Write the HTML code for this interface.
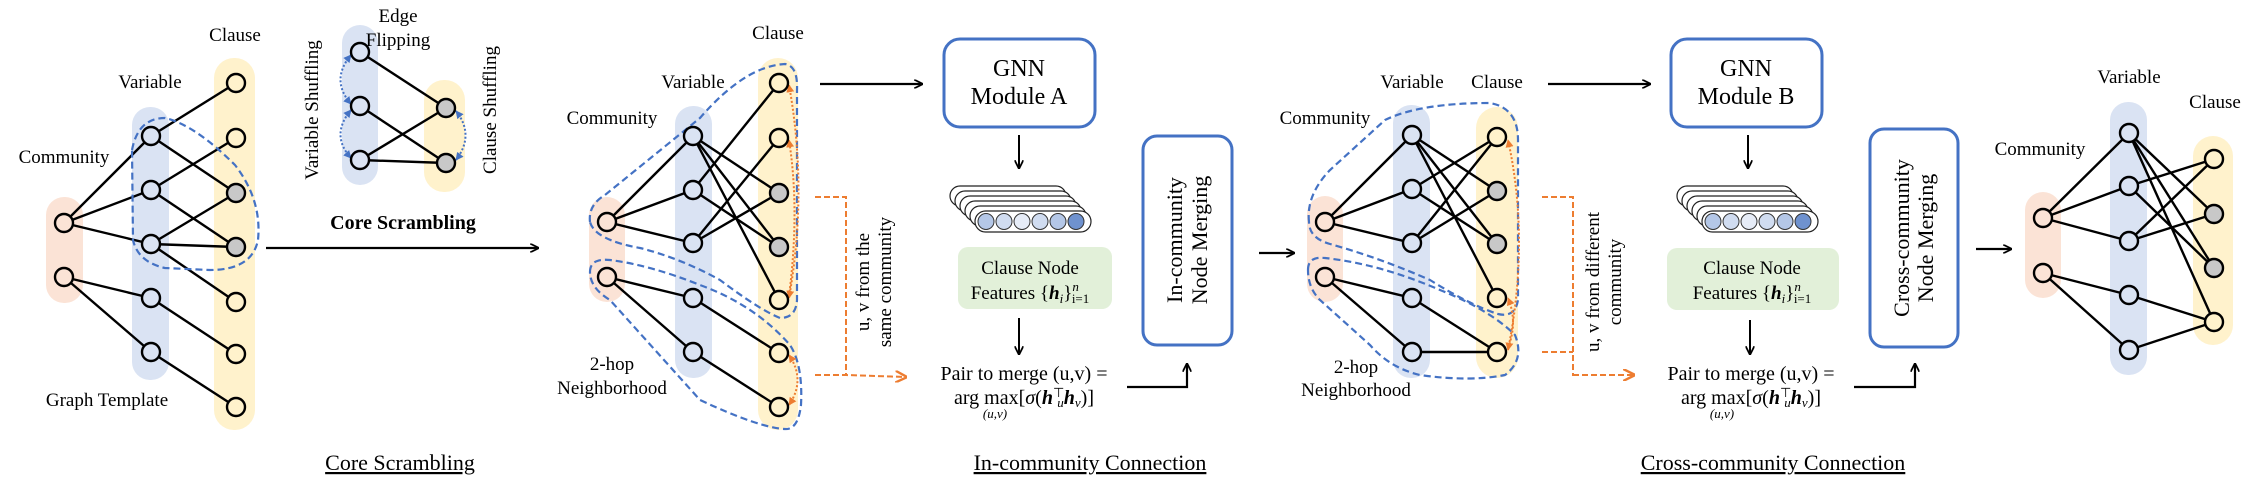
<!DOCTYPE html>
<html><head><meta charset="utf-8"><style>
html,body{margin:0;padding:0;background:#fff;}
svg{display:block;font-family:"Liberation Serif",serif;}
</style></head><body>
<svg width="2248" height="481" viewBox="0 0 2248 481" xmlns="http://www.w3.org/2000/svg">
<defs>
<marker id="ah" viewBox="0 0 10 10" refX="9" refY="5" markerWidth="9" markerHeight="9" orient="auto" markerUnits="userSpaceOnUse"><path d="M0,0 L10,5 L0,10" fill="none" stroke="#000" stroke-width="2"/></marker>
<marker id="ao" viewBox="0 0 10 10" refX="9" refY="5" markerWidth="12" markerHeight="12" orient="auto" markerUnits="userSpaceOnUse"><path d="M0,0 L10,5 L0,10" fill="none" stroke="#ED7D31" stroke-width="2"/></marker>
<marker id="aos" viewBox="0 0 10 10" refX="9" refY="5" markerWidth="8" markerHeight="8" orient="auto-start-reverse" markerUnits="userSpaceOnUse"><path d="M0,0 L10,5 L0,10 Z" fill="#ED7D31"/></marker>
<marker id="abs" viewBox="0 0 10 10" refX="9" refY="5" markerWidth="8" markerHeight="8" orient="auto-start-reverse" markerUnits="userSpaceOnUse"><path d="M0,0 L10,5 L0,10 Z" fill="#4472C4"/></marker>
</defs>
<style>
.e{stroke:#000;stroke-width:2.4;}
.nc{fill:#FBE3D6;stroke:#000;stroke-width:2.4;}
.nv{fill:#DAE3F3;stroke:#000;stroke-width:2.4;}
.nl{fill:#FFF2CC;stroke:#000;stroke-width:2.4;}
.ng{fill:#C8C8C8;stroke:#000;stroke-width:2.4;}
.bd{fill:none;stroke:#4472C4;stroke-width:2.2;stroke-dasharray:7,4;}
.od{fill:none;stroke:#ED7D31;stroke-width:2;stroke-dasharray:2,2;}
.ob{fill:none;stroke:#ED7D31;stroke-width:2;stroke-dasharray:6,3;}
.t{font-size:19px;fill:#000;}
.bx{fill:#fff;stroke:#4472C4;stroke-width:3;}
</style>

<!-- ========== Graph 1 ========== -->
<rect x="46" y="197" width="37" height="106" rx="18" fill="#FBE3D6"/>
<rect x="132" y="107" width="37" height="273" rx="18" fill="#DAE3F3"/>
<rect x="214" y="58" width="41" height="372" rx="20" fill="#FFF2CC"/>
<g class="e">
<line x1="64" y1="223" x2="151" y2="136"/><line x1="64" y1="223" x2="151" y2="190"/><line x1="64" y1="223" x2="151" y2="244"/>
<line x1="64" y1="277" x2="151" y2="298"/><line x1="64" y1="277" x2="151" y2="352"/>
<line x1="151" y1="136" x2="236" y2="83"/><line x1="151" y1="136" x2="236" y2="193"/>
<line x1="151" y1="190" x2="236" y2="138"/><line x1="151" y1="190" x2="236" y2="247"/>
<line x1="151" y1="244" x2="236" y2="193"/><line x1="151" y1="244" x2="236" y2="247"/><line x1="151" y1="244" x2="236" y2="302"/>
<line x1="151" y1="298" x2="236" y2="354"/><line x1="151" y1="352" x2="236" y2="407"/>
</g>
<path class="bd" d="M132,150 Q138,118 165,118 Q195,125 235,165 Q262,200 258,240 Q252,270 210,270 L165,268 Q138,262 133,240 Z"/>
<circle class="nc" cx="64" cy="223" r="9"/><circle class="nc" cx="64" cy="277" r="9"/>
<circle class="nv" cx="151" cy="136" r="9"/><circle class="nv" cx="151" cy="190" r="9"/><circle class="nv" cx="151" cy="244" r="9"/><circle class="nv" cx="151" cy="298" r="9"/><circle class="nv" cx="151" cy="352" r="9"/>
<circle class="nl" cx="236" cy="83" r="9"/><circle class="nl" cx="236" cy="138" r="9"/><circle class="ng" cx="236" cy="193" r="9"/><circle class="ng" cx="236" cy="247" r="9"/><circle class="nl" cx="236" cy="302" r="9"/><circle class="nl" cx="236" cy="354" r="9"/><circle class="nl" cx="236" cy="407" r="9"/>
<text class="t" x="235" y="41" text-anchor="middle">Clause</text>
<text class="t" x="150" y="88" text-anchor="middle">Variable</text>
<text class="t" x="64" y="163" text-anchor="middle">Community</text>
<text class="t" x="107" y="406" text-anchor="middle">Graph Template</text>

<!-- Core scrambling inset -->
<rect x="342" y="25" width="36" height="160" rx="18" fill="#DAE3F3"/>
<rect x="424" y="80" width="41" height="112" rx="20" fill="#FFF2CC"/>
<g class="e">
<line x1="360" y1="52" x2="446" y2="108"/><line x1="360" y1="106" x2="446" y2="163"/>
<line x1="360" y1="160" x2="446" y2="108"/><line x1="360" y1="160" x2="446" y2="163"/>
</g>
<g fill="none" stroke="#4472C4" stroke-width="2" stroke-dasharray="2,2">
<path d="M351,55 Q330,80 351,104" marker-start="url(#abs)" marker-end="url(#abs)"/>
<path d="M351,110 Q330,135 351,158" marker-start="url(#abs)" marker-end="url(#abs)"/>
<path d="M456,111 Q475,135 456,160" marker-start="url(#abs)" marker-end="url(#abs)"/>
</g>
<circle class="nv" cx="360" cy="52" r="9"/><circle class="nv" cx="360" cy="106" r="9"/><circle class="nv" cx="360" cy="160" r="9"/>
<circle class="ng" cx="446" cy="108" r="9"/><circle class="ng" cx="446" cy="163" r="9"/>
<text class="t" x="398" y="22" text-anchor="middle">Edge</text>
<text class="t" x="398" y="46" text-anchor="middle">Flipping</text>
<text class="t" transform="translate(318,110) rotate(-90)" text-anchor="middle">Variable Shuffling</text>
<text class="t" transform="translate(496,110) rotate(-90)" text-anchor="middle">Clause Shuffling</text>
<text x="403" y="229" text-anchor="middle" font-size="20" font-weight="bold">Core Scrambling</text>
<line x1="266" y1="248" x2="538" y2="248" stroke="#000" stroke-width="2.2" marker-end="url(#ah)"/>
<text x="400" y="470" text-anchor="middle" font-size="22" text-decoration="underline">Core Scrambling</text>

<!-- ========== Graph 2 ========== -->
<rect x="589" y="197" width="36" height="105" rx="18" fill="#FBE3D6"/>
<rect x="675" y="106" width="37" height="272" rx="18" fill="#DAE3F3"/>
<rect x="758" y="58" width="40" height="372" rx="20" fill="#FFF2CC"/>
<g class="e">
<line x1="607" y1="222" x2="693" y2="136"/><line x1="607" y1="222" x2="693" y2="190"/><line x1="607" y1="222" x2="693" y2="243"/>
<line x1="607" y1="277" x2="693" y2="298"/><line x1="607" y1="277" x2="693" y2="352"/>
<line x1="693" y1="136" x2="779" y2="193"/><line x1="693" y1="136" x2="779" y2="247"/><line x1="693" y1="136" x2="779" y2="300"/>
<line x1="693" y1="190" x2="779" y2="83"/><line x1="693" y1="190" x2="779" y2="247"/>
<line x1="693" y1="243" x2="779" y2="138"/><line x1="693" y1="243" x2="779" y2="193"/>
<line x1="693" y1="298" x2="779" y2="353"/><line x1="693" y1="352" x2="779" y2="407"/>
</g>
<path class="bd" d="M590,222 Q588,205 605,195 L700,118 Q745,66 785,64 Q798,66 797,90 L797,300 Q796,318 780,318 Q760,310 720,280 Q680,258 640,248 Q595,240 590,222 Z"/>
<path class="bd" d="M590,272 Q590,258 610,260 Q650,265 700,285 Q755,305 790,345 Q803,365 801,405 Q798,430 785,429 Q760,428 700,400 L610,300 Q590,288 590,272 Z"/>
<path class="od" d="M789,298 Q808,190 789,85" marker-start="url(#aos)" marker-end="url(#aos)"/>
<path class="od" d="M789,296 Q800,210 789,140" marker-end="url(#aos)"/>
<path class="od" d="M789,355 Q806,380 789,405" marker-start="url(#aos)" marker-end="url(#aos)"/>
<circle class="nc" cx="607" cy="222" r="9"/><circle class="nc" cx="607" cy="277" r="9"/>
<circle class="nv" cx="693" cy="136" r="9"/><circle class="nv" cx="693" cy="190" r="9"/><circle class="nv" cx="693" cy="243" r="9"/><circle class="nv" cx="693" cy="298" r="9"/><circle class="nv" cx="693" cy="352" r="9"/>
<circle class="nl" cx="779" cy="83" r="9"/><circle class="nl" cx="779" cy="138" r="9"/><circle class="ng" cx="779" cy="193" r="9"/><circle class="ng" cx="779" cy="247" r="9"/><circle class="nl" cx="779" cy="300" r="9"/><circle class="nl" cx="779" cy="353" r="9"/><circle class="nl" cx="779" cy="407" r="9"/>
<text class="t" x="778" y="39" text-anchor="middle">Clause</text>
<text class="t" x="693" y="88" text-anchor="middle">Variable</text>
<text class="t" x="612" y="124" text-anchor="middle">Community</text>
<text class="t" x="612" y="370" text-anchor="middle">2-hop</text>
<text class="t" x="612" y="394" text-anchor="middle">Neighborhood</text>
<polyline class="ob" points="815,197 846,197 846,376"/>
<polyline class="ob" points="815,375 846,375 906,377" marker-end="url(#ao)"/>
<text class="t" transform="translate(869,282) rotate(-90)" text-anchor="middle">u, v from the</text>
<text class="t" transform="translate(891,282) rotate(-90)" text-anchor="middle">same community</text>
<line x1="820" y1="84" x2="922" y2="84" stroke="#000" stroke-width="2.2" marker-end="url(#ah)"/>
<rect class="bx" x="944" y="39" width="151" height="88" rx="16"/>
<text x="1019" y="76" text-anchor="middle" font-size="24">GNN</text>
<text x="1019" y="104" text-anchor="middle" font-size="24">Module A</text>
<line x1="1019" y1="135" x2="1019" y2="168" stroke="#000" stroke-width="2" marker-end="url(#ah)"/>
<g id="tensorA">
<g fill="#fff" stroke="#222" stroke-width="1.2">
<rect x="950" y="186" width="116" height="20" rx="10"/>
<rect x="955" y="191" width="116" height="20" rx="10"/>
<rect x="960" y="196" width="116" height="20" rx="10"/>
<rect x="965" y="201" width="116" height="20" rx="10"/>
<rect x="970" y="206" width="116" height="20" rx="10"/>
<rect x="975" y="211" width="116" height="21" rx="10.5"/>
</g>
<g stroke="#333" stroke-width="1">
<circle cx="986" cy="221.5" r="8" fill="#B4C7E7"/><circle cx="1004" cy="221.5" r="8" fill="#D0DCF0"/><circle cx="1022" cy="221.5" r="8" fill="#E6ECF7"/><circle cx="1040" cy="221.5" r="8" fill="#D0DCF0"/><circle cx="1058" cy="221.5" r="8" fill="#B4C7E7"/><circle cx="1076" cy="221.5" r="8" fill="#6F92CF"/>
</g>
</g>
<rect x="958" y="247" width="154" height="62" rx="10" fill="#E2F0D9"/>
<text class="t" x="1030" y="274" text-anchor="middle">Clause Node</text>
<text class="t" x="1030" y="299" text-anchor="middle">Features {<tspan font-weight="bold" font-style="italic">h</tspan><tspan font-style="italic" font-size="13" dy="4">i</tspan><tspan dy="-4">}</tspan><tspan font-size="13" font-style="italic" dy="-8">n</tspan><tspan font-size="13" dy="12" dx="-7">i=1</tspan></text>
<line x1="1019" y1="318" x2="1019" y2="354" stroke="#000" stroke-width="2" marker-end="url(#ah)"/>
<text x="1024" y="380" text-anchor="middle" font-size="20">Pair to merge (u,v) =</text>
<text x="1024" y="404" text-anchor="middle" font-size="20">arg max[<tspan font-style="italic">σ</tspan>(<tspan font-weight="bold" font-style="italic">h</tspan><tspan font-size="13" dy="-7">⊤</tspan><tspan font-size="13" font-style="italic" dy="10" dx="-7">u</tspan><tspan font-weight="bold" font-style="italic" dy="-3">h</tspan><tspan font-size="13" font-style="italic" dy="3">v</tspan><tspan dy="-3">)]</tspan></text>
<text x="995" y="418" text-anchor="middle" font-size="13" font-style="italic">(u,v)</text>
<polyline points="1127,387 1187,387 1187,364" fill="none" stroke="#000" stroke-width="2.2" marker-end="url(#ah)"/>
<rect class="bx" x="1143" y="136" width="89" height="209" rx="14"/>
<text transform="translate(1182,240) rotate(-90)" text-anchor="middle" font-size="22">In-community</text>
<text transform="translate(1207,240) rotate(-90)" text-anchor="middle" font-size="22">Node Merging</text>
<text x="1090" y="470" text-anchor="middle" font-size="22" text-decoration="underline">In-community Connection</text>

<!-- ========== Graph 3 ========== -->
<line x1="1259" y1="253" x2="1294" y2="253" stroke="#000" stroke-width="2.2" marker-end="url(#ah)"/>
<rect x="1307" y="196" width="36" height="106" rx="18" fill="#FBE3D6"/>
<rect x="1393" y="105" width="37" height="273" rx="18" fill="#DAE3F3"/>
<rect x="1476" y="107" width="42" height="271" rx="21" fill="#FFF2CC"/>
<g class="e">
<line x1="1325" y1="222" x2="1412" y2="135"/><line x1="1325" y1="222" x2="1412" y2="189"/><line x1="1325" y1="222" x2="1412" y2="243"/>
<line x1="1325" y1="277" x2="1412" y2="298"/><line x1="1325" y1="277" x2="1412" y2="352"/>
<line x1="1412" y1="135" x2="1497" y2="191"/><line x1="1412" y1="135" x2="1497" y2="244"/><line x1="1412" y1="135" x2="1497" y2="298"/>
<line x1="1412" y1="189" x2="1497" y2="137"/><line x1="1412" y1="189" x2="1497" y2="244"/>
<line x1="1412" y1="243" x2="1497" y2="137"/><line x1="1412" y1="243" x2="1497" y2="191"/>
<line x1="1412" y1="298" x2="1497" y2="352"/><line x1="1412" y1="352" x2="1497" y2="352"/>
</g>
<path class="bd" d="M1309,222 Q1306,195 1330,170 L1385,120 Q1420,103 1490,103 Q1518,108 1518,140 L1518,300 Q1515,318 1498,314 Q1470,305 1430,280 Q1380,258 1330,244 Q1309,238 1309,222 Z"/>
<path class="bd" d="M1308,270 Q1308,256 1325,258 Q1380,264 1440,290 Q1490,310 1515,335 Q1525,360 1505,375 Q1470,382 1420,375 Q1390,368 1370,345 L1320,300 Q1308,288 1308,270 Z"/>
<path class="od" d="M1508,350 Q1530,240 1508,140" marker-start="url(#aos)" marker-end="url(#aos)"/>
<path class="od" d="M1508,348 Q1518,322 1508,298" marker-end="url(#aos)"/>
<circle class="nc" cx="1325" cy="222" r="9"/><circle class="nc" cx="1325" cy="277" r="9"/>
<circle class="nv" cx="1412" cy="135" r="9"/><circle class="nv" cx="1412" cy="189" r="9"/><circle class="nv" cx="1412" cy="243" r="9"/><circle class="nv" cx="1412" cy="298" r="9"/><circle class="nv" cx="1412" cy="352" r="9"/>
<circle class="nl" cx="1497" cy="137" r="9"/><circle class="ng" cx="1497" cy="191" r="9"/><circle class="ng" cx="1497" cy="244" r="9"/><circle class="nl" cx="1497" cy="298" r="9"/><circle class="nl" cx="1497" cy="352" r="9"/>
<text class="t" x="1412" y="88" text-anchor="middle">Variable</text>
<text class="t" x="1497" y="88" text-anchor="middle">Clause</text>
<text class="t" x="1325" y="124" text-anchor="middle">Community</text>
<text class="t" x="1356" y="373" text-anchor="middle">2-hop</text>
<text class="t" x="1356" y="396" text-anchor="middle">Neighborhood</text>
<polyline class="ob" points="1542,197 1573,197 1573,376"/>
<polyline class="ob" points="1542,352 1573,352"/>
<polyline class="ob" points="1573,375 1634,375" marker-end="url(#ao)"/>
<text class="t" transform="translate(1599,282) rotate(-90)" text-anchor="middle">u, v from different</text>
<text class="t" transform="translate(1621,282) rotate(-90)" text-anchor="middle">community</text>
<line x1="1548" y1="84" x2="1650" y2="84" stroke="#000" stroke-width="2.2" marker-end="url(#ah)"/>
<rect class="bx" x="1671" y="39" width="151" height="88" rx="16"/>
<text x="1746" y="76" text-anchor="middle" font-size="24">GNN</text>
<text x="1746" y="104" text-anchor="middle" font-size="24">Module B</text>
<line x1="1748" y1="135" x2="1748" y2="168" stroke="#000" stroke-width="2" marker-end="url(#ah)"/>
<use href="#tensorA" transform="translate(727,0)"/>
<rect x="1667" y="248" width="172" height="62" rx="10" fill="#E2F0D9"/>
<text class="t" x="1752" y="274" text-anchor="middle">Clause Node</text>
<text class="t" x="1752" y="299" text-anchor="middle">Features {<tspan font-weight="bold" font-style="italic">h</tspan><tspan font-style="italic" font-size="13" dy="4">i</tspan><tspan dy="-4">}</tspan><tspan font-size="13" font-style="italic" dy="-8">n</tspan><tspan font-size="13" dy="12" dx="-7">i=1</tspan></text>
<line x1="1750" y1="320" x2="1750" y2="354" stroke="#000" stroke-width="2" marker-end="url(#ah)"/>
<text x="1751" y="380" text-anchor="middle" font-size="20">Pair to merge (u,v) =</text>
<text x="1751" y="404" text-anchor="middle" font-size="20">arg max[<tspan font-style="italic">σ</tspan>(<tspan font-weight="bold" font-style="italic">h</tspan><tspan font-size="13" dy="-7">⊤</tspan><tspan font-size="13" font-style="italic" dy="10" dx="-7">u</tspan><tspan font-weight="bold" font-style="italic" dy="-3">h</tspan><tspan font-size="13" font-style="italic" dy="3">v</tspan><tspan dy="-3">)]</tspan></text>
<text x="1722" y="418" text-anchor="middle" font-size="13" font-style="italic">(u,v)</text>
<polyline points="1854,387 1915,387 1915,364" fill="none" stroke="#000" stroke-width="2.2" marker-end="url(#ah)"/>
<rect class="bx" x="1870" y="129" width="88" height="218" rx="14"/>
<text transform="translate(1909,238) rotate(-90)" text-anchor="middle" font-size="22">Cross-community</text>
<text transform="translate(1933,238) rotate(-90)" text-anchor="middle" font-size="22">Node Merging</text>
<text x="1773" y="470" text-anchor="middle" font-size="22" text-decoration="underline">Cross-community Connection</text>

<!-- ========== Graph 4 ========== -->
<line x1="1976" y1="249" x2="2011" y2="249" stroke="#000" stroke-width="2.2" marker-end="url(#ah)"/>
<rect x="2025" y="192" width="36" height="106" rx="18" fill="#FBE3D6"/>
<rect x="2110" y="102" width="37" height="273" rx="18" fill="#DAE3F3"/>
<rect x="2193" y="136" width="40" height="209" rx="20" fill="#FFF2CC"/>
<g class="e">
<line x1="2043" y1="218" x2="2129" y2="133"/><line x1="2043" y1="218" x2="2129" y2="186"/><line x1="2043" y1="218" x2="2129" y2="241"/>
<line x1="2043" y1="273" x2="2129" y2="295"/><line x1="2043" y1="273" x2="2129" y2="350"/>
<line x1="2129" y1="133" x2="2214" y2="214"/><line x1="2129" y1="133" x2="2214" y2="268"/><line x1="2129" y1="133" x2="2214" y2="322"/>
<line x1="2129" y1="186" x2="2214" y2="159"/><line x1="2129" y1="186" x2="2214" y2="268"/>
<line x1="2129" y1="241" x2="2214" y2="159"/><line x1="2129" y1="241" x2="2214" y2="214"/>
<line x1="2129" y1="295" x2="2214" y2="322"/><line x1="2129" y1="350" x2="2214" y2="322"/>
</g>
<circle class="nc" cx="2043" cy="218" r="9"/><circle class="nc" cx="2043" cy="273" r="9"/>
<circle class="nv" cx="2129" cy="133" r="9"/><circle class="nv" cx="2129" cy="186" r="9"/><circle class="nv" cx="2129" cy="241" r="9"/><circle class="nv" cx="2129" cy="295" r="9"/><circle class="nv" cx="2129" cy="350" r="9"/>
<circle class="nl" cx="2214" cy="159" r="9"/><circle class="ng" cx="2214" cy="214" r="9"/><circle class="ng" cx="2214" cy="268" r="9"/><circle class="nl" cx="2214" cy="322" r="9"/>
<text class="t" x="2129" y="83" text-anchor="middle">Variable</text>
<text class="t" x="2215" y="108" text-anchor="middle">Clause</text>
<text class="t" x="2040" y="155" text-anchor="middle">Community</text>
</svg>
</body></html>
